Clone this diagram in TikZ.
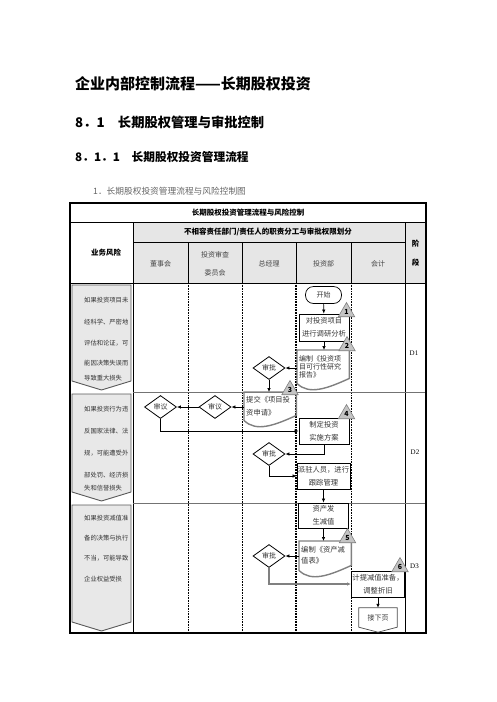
\documentclass[tikz,border=0pt]{standalone}
\usepackage{fontspec}
\setmainfont{Noto Sans CJK SC}
\newfontfamily\stagefont{Liberation Serif}
\usepackage{tikz}
\usetikzlibrary{arrows.meta, positioning, calc, shapes.geometric}
\definecolor{hdrgray}{HTML}{E6E6E6}
\definecolor{riskgray}{HTML}{E8E8E8}
\definecolor{docgray}{HTML}{808080}
\definecolor{trigray}{HTML}{C4C4C4}
\definecolor{txtgray}{HTML}{454545}
% outline of a document shape with a wavy foot
\newcommand{\docwave}[1]{%
  \draw[docline] (#1.south west) -- (#1.north west) -- (#1.north east)
    -- ($(#1.south east)+(0,5pt)$)
    .. controls +(-22pt,-10pt) and +(12pt,-12pt) .. (#1.south west) -- cycle;}
% risk cell with a chevron foot
\newcommand{\riskcell}[3]{%
  \draw[riskbox] (72,#1) -- (131,#1) -- (131,#2) -- (101.5,#3) -- (72,#2) -- cycle;}

\begin{document}
\begin{tikzpicture}[x=1pt, y=-1pt,
  heading/.style={anchor=west, inner sep=0pt},
  hdrbold/.style={inner sep=0pt, font=\fontsize{7.5}{8}\selectfont\bfseries},
  lanehdr/.style={inner sep=0pt, align=center, text=txtgray,
    font=\fontsize{7}{18}\selectfont},
  risktext/.style={anchor=west, inner sep=0pt, text=black!80,
    font=\fontsize{6.3}{6.3}\selectfont},
  riskbox/.style={fill=riskgray, draw=black!65, line width=0.9pt},
  lane/.style={line width=0.8pt, dash pattern=on 0.8pt off 0.8pt},
  proc/.style={draw, line width=0.8pt, minimum width=50pt, minimum height=26pt,
    inner sep=1pt, align=center, text=black!80, font=\fontsize{7.3}{13}\selectfont},
  startbox/.style={draw, line width=0.7pt, rounded corners=8pt, minimum width=36pt,
    minimum height=17pt, inner sep=1pt, text=black!80, font=\fontsize{7}{7}\selectfont},
  decide/.style={diamond, draw, line width=0.8pt, aspect=1.4, minimum width=32pt,
    minimum height=23pt, inner sep=1pt, text=black!80, font=\fontsize{7}{7}\selectfont},
  doc/.style={anchor=north west, text width=48pt, align=left, inner sep=2pt,
    text=black!80},
  docline/.style={draw=docgray, line width=1.4pt},
  ctrltri/.style={regular polygon, regular polygon sides=3, draw=docgray, fill=trigray,
    line width=0.6pt, minimum size=19pt, inner sep=0pt, font=\fontsize{7}{7}\selectfont\bfseries},
  stagelbl/.style={inner sep=0pt, font=\stagefont\fontsize{7}{7}\selectfont},
  flow/.style={-{Latex[length=4pt,width=3.5pt]}, line width=0.7pt}]
  \useasboundingbox (0,0) rectangle (496,702);

  % headings above the chart
  \node[heading, font=\fontsize{15}{15}\selectfont\bfseries] (docTitle) at (75,84) {企业内部控制流程——长期股权投资};
  \node[heading, font=\fontsize{13.3}{14}\selectfont\bfseries] (secTitle) at (75,122) {8．1　长期股权管理与审批控制};
  \node[heading, font=\fontsize{11.7}{12}\selectfont\bfseries] (subTitle) at (75,157) {8．1．1　长期股权投资管理流程};
  \node[heading, text=black!60, font=\fontsize{8.7}{9}\selectfont] (figCap) at (93,191) {1．长期股权投资管理流程与风险控制图};

  % table frame and header
  \fill[hdrgray] (133,222) rectangle (426,283);
  \draw[line width=0.8pt] (70,222) -- (426,222);
  \draw[line width=0.8pt] (133,242) -- (405,242);
  \draw[line width=0.8pt] (70,283) -- (426,283);
  \draw[line width=0.8pt] (133,222) -- (133,633);
  \draw[line width=0.8pt] (405,222) -- (405,633);
  \foreach \x in {188,242,296,351}
    \draw[line width=0.8pt] (\x,242) -- (\x,283);
  \foreach \x in {188,242,351}
    \draw[lane] (\x,283) -- (\x,633);
  \draw[lane, line width=1.4pt] (296,283) -- (296,633);
  \draw[black!55, line width=0.6pt] (133,392) -- (426,392);
  \draw[black!55, line width=0.6pt] (133,503) -- (426,503);
  \draw[line width=1.1pt] (70,203) rectangle (426,633);

  \node[hdrbold] (chartTtl) at (248,212.5) {长期股权投资管理流程与风险控制};
  \node[hdrbold] (dutyTtl) at (268,232) {不相容责任部门/责任人的职责分工与审批权限划分};
  \node[hdrbold] (riskTtl) at (106,252.5) {业务风险};
  \node[hdrbold, align=center, font=\fontsize{7.5}{19}\selectfont\bfseries] (stageTtl) at (415.5,253) {阶\\段};
  \foreach \x/\t [count=\i] in {160.5/董事会, 215/投资审查\\委员会, 269/总经理, 323.5/投资部, 378/会计}
    \node[lanehdr] (lane\i) at (\x,263.5) {\t};

  % risk column
  \riskcell{285}{381}{390}
  \riskcell{394}{492}{501}
  \riskcell{505}{622}{631}
  \foreach \y/\t [count=\i] in {300/如果投资项目未, 322/经科学、严密地, 343/评估和论证，可, 363/能因决策失误而, 378/导致重大损失}
    \node[risktext] (riskA\i) at (84,\y) {\t};
  \foreach \y/\t [count=\i] in {409/如果投资行为违, 431/反国家法律、法, 453/规，可能遭受外, 475/部处罚、经济损, 488/失和信誉损失}
    \node[risktext] (riskB\i) at (84,\y) {\t};
  \foreach \y/\t [count=\i] in {518/如果投资减值准, 538/备的决策与执行, 558/不当，可能导致, 579/企业权益受损}
    \node[risktext] (riskC\i) at (84,\y) {\t};

  % stage labels
  \foreach \x/\y/\s in {414/353/D1, 415/452/D2, 414.5/566/D3}
    \node[stagelbl] (stage\s) at (\x,\y) {\s};

  % flow
  \node[startbox] (start) at (323.5,295) {开始};
  \node[proc, minimum height=27pt] (survey) at (324,327.5) {对投资项目\\进行调研分析};
  \node[doc, minimum height=33pt, font=\fontsize{7}{7.8}\selectfont] (feasRep) at (297,350) {编制《投资项\\目可行性研究\\报告》};
  \node[decide] (gmA) at (269,368) {审批};
  \node[doc, minimum height=28pt, font=\fontsize{7.3}{13}\selectfont] (applyDoc) at (244,392) {提交《项目投\\资申请》};
  \node[decide] (cmtA) at (215,407) {审议};
  \node[decide] (boardA) at (160.5,407) {审议};
  \node[proc] (planBox) at (324,431) {制定投资\\实施方案};
  \node[decide] (gmB) at (269,454) {审批};
  \node[proc] (trackBox) at (323.5,476) {派驻人员，进行\\跟踪管理};
  \node[proc, minimum height=25pt] (impairBox) at (323.5,515.5) {资产发\\生减值};
  \node[doc, minimum height=29pt, font=\fontsize{7.3}{11}\selectfont] (impDoc) at (299,541) {编制《资产减\\值表》};
  \node[decide] (gmC) at (269,556) {审批};
  \node[proc] (provBox) at (378,584) {计提减值准备，\\调整折旧};
  \node[inner sep=0pt, minimum width=38pt, minimum height=19pt, text=black!80,
    font=\fontsize{7}{7}\selectfont] (nextPg) at (378,617.5) {接下页};
  \docwave{feasRep}
  \docwave{applyDoc}
  \docwave{impDoc}
  \draw[line width=0.7pt, draw=black!70] (nextPg.north west) -- (nextPg.north east) -- (nextPg.south east)
    -- ($(nextPg.south)+(0,-5pt)$) -- (nextPg.south west) -- cycle;

  \draw[flow] (start) -- (survey);
  \draw[flow] (survey.south) -- (survey.south |- feasRep.north);
  \draw[flow] (gmA.east -| feasRep.west) -- (gmA.east);
  \draw[flow] (gmA.south) -- (gmA.south |- applyDoc.north);
  \draw[flow] (cmtA.east -| applyDoc.west) -- (cmtA.east);
  \draw[flow] (cmtA) -- (boardA);
  \draw[flow] (boardA.south) |- (planBox.west);
  \draw[flow] (planBox.south) |- (gmB.east);
  \draw[flow] (gmB.south) |- (trackBox.west);
  \draw[flow] (trackBox) -- (impairBox);
  \draw[flow] (impairBox.south) -- (impairBox.south |- impDoc.north);
  \draw[flow] (gmC.east -| impDoc.west) -- (gmC.east);
  \draw[flow, draw=docgray, line width=1.2pt] (gmC.south) |- (provBox.west);
  \draw[flow] (provBox) -- (nextPg);

  % control points
  \foreach \x/\y/\n in {346.5/312/1, 347/346/2, 290/390/3, 346.5/414/4, 347.5/538/5, 400/567/6}
    \node[ctrltri] (tri\n) at (\x,\y) {\n};
\end{tikzpicture}
\end{document}
